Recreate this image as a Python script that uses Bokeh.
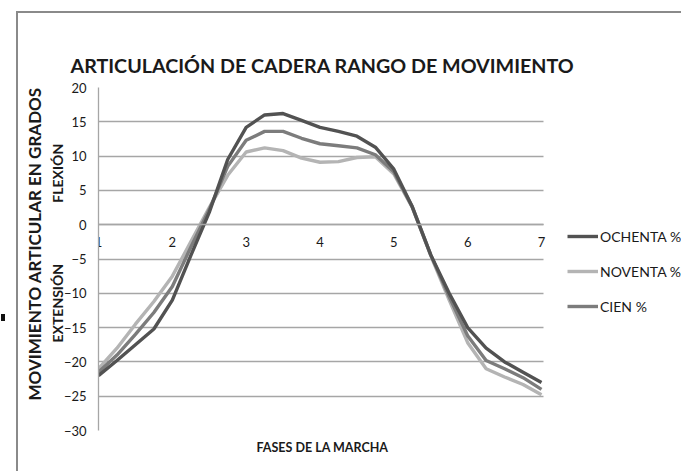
from bokeh.plotting import figure
from bokeh.models import Legend, LegendItem, FixedTicker, Range1d, Title, BoxAnnotation
from bokeh.embed import file_html
from bokeh.resources import INLINE

# ---- data ----
fases = [1.0, 1.25, 1.5, 1.75, 2.0, 2.25, 2.5, 2.75, 3.0, 3.25, 3.5, 3.75, 4.0,
         4.25, 4.5, 4.75, 5.0, 5.25, 5.5, 5.75, 6.0, 6.25, 6.5, 6.75, 7.0]
ochenta = [-22.0, -19.8, -17.5, -15.2, -11.0, -4.5, 1.8, 9.5, 14.2, 16.0, 16.2, 15.2, 14.2,
           13.6, 12.9, 11.3, 8.1, 2.6, -4.4, -10.0, -15.0, -18.0, -20.0, -21.5, -23.0]
noventa = [-21.0, -18.0, -14.5, -11.2, -7.5, -2.5, 2.5, 7.2, 10.6, 11.2, 10.8, 9.7, 9.1,
           9.2, 9.8, 9.9, 7.4, 2.5, -4.5, -11.0, -17.2, -21.0, -22.2, -23.3, -24.8]
cien = [-21.5, -19.0, -16.0, -12.8, -9.0, -3.3, 2.2, 8.5, 12.3, 13.6, 13.6, 12.6, 11.8,
        11.5, 11.2, 10.2, 7.7, 2.6, -4.4, -10.5, -16.2, -19.8, -21.0, -22.3, -24.0]
series_names = ["OCHENTA %", "NOVENTA %", "CIEN %"]
series_colors = ["#525252", "#b4b4b4", "#7c7c7c"]
y_ticks = [-30, -25, -20, -15, -10, -5, 0, 5, 10, 15, 20]
x_ticks = [1, 2, 3, 4, 5, 6, 7]

title_text = "ARTICULACIÓN DE CADERA RANGO DE MOVIMIENTO"
ylabel_1 = "MOVIMIENTO ARTICULAR EN GRADOS"
ylabel_flex = "FLEXIÓN"
ylabel_ext = "EXTENSIÓN"
xlabel = "FASES DE LA MARCHA"

FONT = "Lato"
GRID = "#a6a6a6"
TXT = "#1a1a1a"
NB = "\u00a0"
FRAME_LINE = "#8a8a8a"

# plot area: x = 1..7 occupies 443 px, the frame runs on to the right edge
# so that the legend (inside the frame) is not clipped
X_END = 1 + 583 * 6 / 443

p = figure(width=681, height=471, output_backend="svg", toolbar_location=None,
           x_range=Range1d(1, X_END), y_range=Range1d(-30, 20),
           min_border_left=98, min_border_right=0, min_border_top=87,
           min_border_bottom=41)
p.outline_line_color = None
p.background_fill_color = "white"
p.border_fill_alpha = 0
p.styles = {
    "background": (f"linear-gradient({FRAME_LINE},{FRAME_LINE}) no-repeat 16px 11px / 665px 2px, "
                   f"linear-gradient({FRAME_LINE},{FRAME_LINE}) no-repeat 16px 11px / 2px 460px, "
                   "linear-gradient(#111,#111) no-repeat 1px 314px / 4px 7px, white")
}

p.xgrid.grid_line_color = None
g = p.ygrid[0]
g.ticker = FixedTicker(ticks=y_ticks)
g.grid_line_color = GRID
g.grid_line_width = 1.3
if "cross_bounds" in g.properties():
    g.cross_bounds = (1, 7.03)
else:
    p.add_layout(BoxAnnotation(left=7.03, fill_color="white", fill_alpha=1,
                               line_color=None, level="underlay"))

p.yaxis.ticker = FixedTicker(ticks=y_ticks)
p.yaxis.axis_line_color = GRID
p.yaxis.axis_line_width = 1.3
p.yaxis.major_tick_line_color = None
p.yaxis.major_tick_out = 0
p.yaxis.major_tick_in = 0
p.yaxis.minor_tick_line_color = None
p.yaxis.major_label_standoff = 12
p.yaxis.major_label_text_font = FONT
p.yaxis.major_label_text_font_size = "13px"
p.yaxis.major_label_text_color = TXT

p.xaxis.ticker = FixedTicker(ticks=x_ticks)
p.xaxis.fixed_location = 0
p.xaxis.bounds = (1, 7.03)
p.xaxis.axis_line_color = GRID
p.xaxis.axis_line_width = 1.3
p.xaxis.major_tick_line_color = None
p.xaxis.major_tick_out = 0
p.xaxis.major_tick_in = 0
p.xaxis.minor_tick_line_color = None
p.xaxis.major_label_standoff = 12
p.xaxis.major_label_text_font = FONT
p.xaxis.major_label_text_font_size = "13px"
p.xaxis.major_label_text_color = TXT

r_nov = p.line(fases, noventa, line_color=series_colors[1], line_width=3.4)
r_cien = p.line(fases, cien, line_color=series_colors[2], line_width=3.4)
r_och = p.line(fases, ochenta, line_color=series_colors[0], line_width=3.4)

legend = Legend(items=[LegendItem(label=series_names[0], renderers=[r_och]),
                       LegendItem(label=series_names[1], renderers=[r_nov]),
                       LegendItem(label=series_names[2], renderers=[r_cien])],
                location=(469, 114), padding=0, margin=0, spacing=15,
                glyph_width=31, glyph_height=20, label_standoff=2,
                border_line_color=None, background_fill_alpha=0,
                label_text_font=FONT, label_text_font_size="14px",
                label_text_color=TXT)
p.add_layout(legend, "center")

# main title
p.title = Title(text=title_text, align="left", offset=-28, text_font=FONT,
                text_font_size="19.7px", text_font_style="bold",
                text_color=TXT, standoff=22)

# x axis title
p.add_layout(Title(text=xlabel, align="left", offset=158, text_font=FONT,
                   text_font_size="12.5px", text_font_style="bold",
                   text_color=TXT, standoff=15), "below")

# y axis titles (two columns)
p.add_layout(Title(text=ylabel_ext + NB * 18 + ylabel_flex, align="left", offset=88,
                   text_font=FONT, text_font_size="14px", text_font_style="bold",
                   text_color=TXT, standoff=-10), "left")
p.add_layout(Title(text=ylabel_1, align="left", offset=30,
                   text_font=FONT, text_font_size="17px", text_font_style="bold",
                   text_color=TXT, standoff=13), "left")

open("out.html", "w").write(file_html(p, INLINE))
